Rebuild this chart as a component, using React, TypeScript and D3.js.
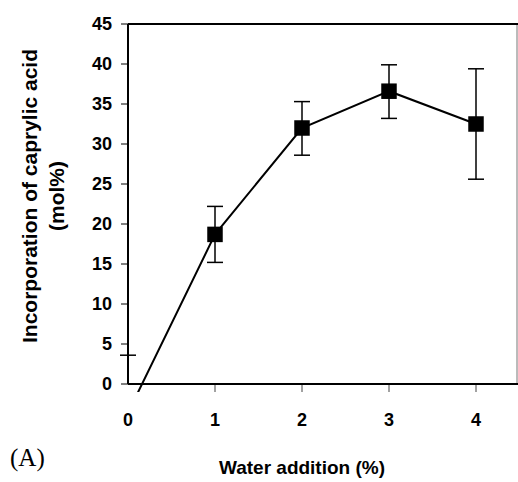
import React from 'react'
import * as d3 from 'd3'

const waterAddition = [0, 1, 2, 3, 4]
const incorporation = [-3.6, 18.7, 32.0, 36.6, 32.5]
const errLow = [-10.8, 15.2, 28.6, 33.2, 25.6]
const errHigh = [3.6, 22.2, 35.3, 39.9, 39.4]
const yTicks = [0, 5, 10, 15, 20, 25, 30, 35, 40, 45]
const xTicks = [0, 1, 2, 3, 4]

const App = () => {
  const x = d3.scaleLinear().domain([0, 4]).range([128, 476])
  const y = d3.scaleLinear().domain([0, 45]).range([384, 24])
  const line = d3
    .line<number>()
    .x((_, i) => x(waterAddition[i]))
    .y((d) => y(d))
  const font = 'Arial, "Liberation Sans", sans-serif'

  return (
    <svg width={518} height={482} style={{ position: 'absolute', left: 0, top: 0 }}>
      <defs>
        <clipPath id="plot">
          <rect x={120} y={0} width={400} height={392} />
        </clipPath>
      </defs>
      <path d={line(incorporation) ?? ''} fill="none" stroke="#000" strokeWidth={2} clipPath="url(#plot)" />
      {incorporation.map((v, i) => {
        const cx = x(waterAddition[i])
        return (
          <g key={i} stroke="#000" strokeWidth={1.5}>
            {i > 0 && <line x1={cx} x2={cx} y1={y(errLow[i])} y2={y(errHigh[i])} />}
            <line x1={cx - 8} x2={cx + 8} y1={y(errHigh[i])} y2={y(errHigh[i])} />
            {i > 0 && <line x1={cx - 8} x2={cx + 8} y1={y(errLow[i])} y2={y(errLow[i])} />}
            {i > 0 && <rect x={cx - 7} y={y(v) - 7} width={14} height={14} fill="#000" />}
          </g>
        )
      })}
      <line x1={517} x2={517} y1={24} y2={384} stroke="#777" strokeWidth={1} />
      <g stroke="#000" strokeWidth={2}>
        <line x1={128} x2={128} y1={24} y2={384} />
        <line x1={128} x2={518} y1={384} y2={384} />
        <line x1={128} x2={518} y1={24} y2={24} />
        {yTicks.map((t) => (
          <line key={t} x1={121} x2={128} y1={y(t)} y2={y(t)} strokeWidth={1} />
        ))}
        {xTicks.slice(1).map((t) => (
          <line key={t} x1={x(t)} x2={x(t)} y1={385} y2={392} strokeWidth={1} stroke="#444" />
        ))}
      </g>
      <g fontFamily={font} fontWeight="bold" fontSize={18}>
        {yTicks.map((t) => (
          <text key={t} x={112} y={y(t)} dy="0.35em" textAnchor="end">
            {t}
          </text>
        ))}
        {xTicks.map((t) => (
          <text key={t} x={x(t)} y={426} textAnchor="middle">
            {t}
          </text>
        ))}
        <text x={302} y={474} fontSize={19} textAnchor="middle">Water addition (%)</text>
        <g transform="translate(37,196) rotate(-90)" fontSize={21}>
          <text textAnchor="middle">Incorporation of caprylic acid</text>
          <text y={27} textAnchor="middle">(mol%)</text>
        </g>
      </g>
      <text x={10} y={466} fontFamily='"Times New Roman", "Liberation Serif", serif' fontSize={25}>
        (A)
      </text>
    </svg>
  )
}

export default App
